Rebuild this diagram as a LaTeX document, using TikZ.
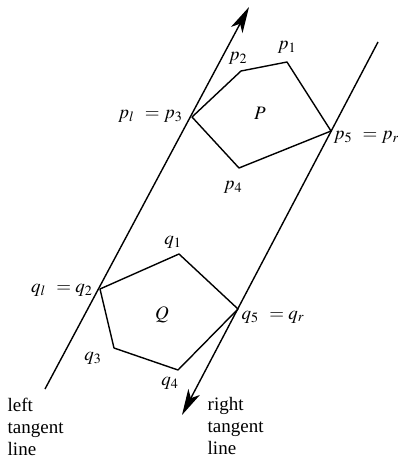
\documentclass[tikz,border=0pt]{standalone}
\usepackage{mathptmx}
\usepackage{fontspec}
\setmainfont{Liberation Serif}
\usetikzlibrary{arrows.meta}
\begin{document}
\begin{tikzpicture}[x=1pt,y=-1pt,line width=1.4pt,
    lbl/.style={font=\fontsize{19}{22}\selectfont,inner sep=1pt},
    tip/.style={-{Stealth[length=26pt,width=13pt,inset=7pt]}}]
  \useasboundingbox (0,0) rectangle (398,466);
  % tangent lines
  \coordinate (lb) at (45,389);
  \coordinate (lt) at (249,7);
  \coordinate (rt) at (378,42);
  \coordinate (rb) at (182,415);
  \draw[tip] (lb) -- (lt);
  \draw[tip] (rt) -- (rb);
  % polygon P
  \coordinate (p1) at (287,62);
  \coordinate (p2) at (241,71);
  \coordinate (p3) at (192,117);
  \coordinate (p4) at (239,168);
  \coordinate (p5) at (331,131);
  \draw[line join=round] (p1) -- (p2) -- (p3) -- (p4) -- (p5) -- cycle;
  % polygon Q
  \coordinate (q1) at (179,254);
  \coordinate (q2) at (100,289);
  \coordinate (q3) at (114,348);
  \coordinate (q4) at (178,370);
  \coordinate (q5) at (238,309);
  \draw[line join=round] (q1) -- (q2) -- (q3) -- (q4) -- (q5) -- cycle;
  % labels
  \node[lbl] (lp1) at (287,47) {$p_1$};
  \node[lbl] (lp2) at (238,58) {$p_2$};
  \node[lbl,anchor=east] (lp3) at (184,116) {$p_l\;\, = p_3$};
  \node[lbl] (lP) at (260,113) {$P$};
  \node[lbl] (lp4) at (233,187) {$p_4$};
  \node[lbl,anchor=west] (lp5) at (332,137) {$p_5\;\, = p_r$};
  \node[lbl] (lq1) at (173,242) {$q_1$};
  \node[lbl,anchor=east] (lq2) at (94,290) {$q_l\;\, = q_2$};
  \node[lbl] (lQ) at (162,315) {$Q$};
  \node[lbl,anchor=west] (lq5) at (240,317) {$q_5\;\, = q_r$};
  \node[lbl] (lq3) at (93,358) {$q_3$};
  \node[lbl] (lq4) at (170,383) {$q_4$};
  \node[lbl,anchor=north west,align=left] (lleft) at (6,396) {left\\tangent\\line};
  \node[lbl,anchor=north west,align=left] (lright) at (206,396) {right\\tangent\\line};
\end{tikzpicture}
\end{document}
